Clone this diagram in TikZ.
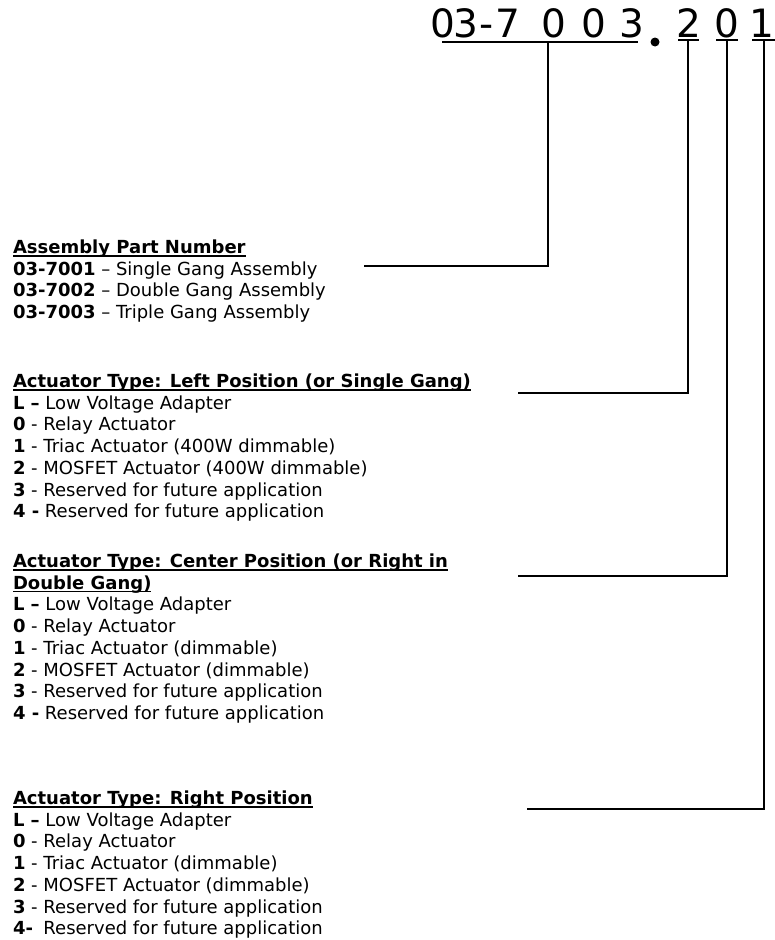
\documentclass[tikz,border=0pt]{standalone}
\usepackage{fontspec}
\setmainfont{DejaVu Sans}
\begin{document}
\begin{tikzpicture}[x=1pt,y=-1pt,
  txt/.style={anchor=base west,inner sep=0pt,outer sep=0pt,font=\fontsize{18}{21.7}\selectfont},
  head/.style={txt,font=\fontsize{18}{21.7}\selectfont\bfseries},
  ttl/.style={anchor=base,inner sep=0pt,outer sep=0pt,font=\fontsize{39}{40}\selectfont},
  conn/.style={line width=1.5pt,line join=miter},
  uline/.style={line width=1.4pt}]
\useasboundingbox (0,0) rectangle (775,940);

% ---- title ----
\node[ttl] (t1) at (442.5,37) {0};
\node[ttl] (t2) at (465.5,37) {3};
\node[ttl] (t3) at (486.5,37) {-};
\node[ttl] (t4) at (507.5,37) {7};
\node[ttl] (t5) at (554,37) {0};
\node[ttl] (t6) at (594,37) {0};
\node[ttl] (t7) at (632,37) {3};
\fill (655,42) circle (4.5pt);
\node[ttl] (t8) at (689,37) {2};
\node[ttl] (t9) at (727,37) {0};
\node[ttl] (t10) at (762,37) {1};

\coordinate (m1) at (442,42); \coordinate (m2) at (638,42);
\coordinate (p1) at (678,40); \coordinate (p2) at (699,40);
\coordinate (q1) at (716,40); \coordinate (q2) at (738,40);
\coordinate (r1) at (752,40); \coordinate (r2) at (775,40);
\draw[conn] (m1) -- (m2);
\draw[conn] (p1) -- (p2);
\draw[conn] (q1) -- (q2);
\draw[conn] (r1) -- (r2);

% ---- connectors ----
\coordinate (ua) at (548,42);  \coordinate (ea) at (364,266);
\coordinate (ub) at (688,40);  \coordinate (eb) at (518,393);
\coordinate (uc) at (727,40);  \coordinate (ec) at (518,576);
\coordinate (ud) at (764,40);  \coordinate (ed) at (527,809);
\draw[conn] (ua) |- (ea);
\draw[conn] (ub) |- (eb);
\draw[conn] (uc) |- (ec);
\draw[conn] (ud) |- (ed);

% ---- Assembly ----
\node[head] (ha) at (13,253.5) {Assembly Part Number};
\draw[uline] ([yshift=-2.5pt]ha.base west) -- ([yshift=-2.5pt]ha.base east);
\node[txt] (a1) at (13,275.2) {\textbf{03-7001} – Single Gang Assembly};
\node[txt] (a2) at (13,296.9) {\textbf{03-7002} – Double Gang Assembly};
\node[txt] (a3) at (13,318.6) {\textbf{03-7003} – Triple Gang Assembly};

% ---- Left ----
\node[head] (hb) at (13,387.5) {Actuator Type: Left Position (or Single Gang)};
\draw[uline] ([yshift=-2.5pt]hb.base west) -- ([yshift=-2.5pt]hb.base east);
\node[txt] (b1) at (13,409.2) {\textbf{L –} Low Voltage Adapter};
\node[txt] (b2) at (13,430.9) {\textbf{0} - Relay Actuator};
\node[txt] (b3) at (13,452.6) {\textbf{1} - Triac Actuator (400W dimmable)};
\node[txt] (b4) at (13,474.3) {\textbf{2} - MOSFET Actuator (400W dimmable)};
\node[txt] (b5) at (13,496.0) {\textbf{3} - Reserved for future application};
\node[txt] (b6) at (13,517.7) {\textbf{4 -} Reserved for future application};

% ---- Center ----
\node[head] (hc) at (13,567.5) {Actuator Type: Center Position (or Right in};
\draw[uline] ([yshift=-2.5pt]hc.base west) -- ([yshift=-2.5pt]hc.base east);
\node[head] (hc2) at (13,589.2) {Double Gang)};
\draw[uline] ([yshift=-2.5pt]hc2.base west) -- ([yshift=-2.5pt]hc2.base east);
\node[txt] (c1) at (13,610.9) {\textbf{L –} Low Voltage Adapter};
\node[txt] (c2) at (13,632.6) {\textbf{0} - Relay Actuator};
\node[txt] (c3) at (13,654.3) {\textbf{1} - Triac Actuator (dimmable)};
\node[txt] (c4) at (13,676.0) {\textbf{2} - MOSFET Actuator (dimmable)};
\node[txt] (c5) at (13,697.7) {\textbf{3} - Reserved for future application};
\node[txt] (c6) at (13,719.4) {\textbf{4 -} Reserved for future application};

% ---- Right ----
\node[head] (hd) at (13,804.5) {Actuator Type: Right Position};
\draw[uline] ([yshift=-2.5pt]hd.base west) -- ([yshift=-2.5pt]hd.base east);
\node[txt] (d1) at (13,826.2) {\textbf{L –} Low Voltage Adapter};
\node[txt] (d2) at (13,847.9) {\textbf{0} - Relay Actuator};
\node[txt] (d3) at (13,869.6) {\textbf{1} - Triac Actuator (dimmable)};
\node[txt] (d4) at (13,891.3) {\textbf{2} - MOSFET Actuator (dimmable)};
\node[txt] (d5) at (13,913.0) {\textbf{3} - Reserved for future application};
\node[txt] (d6) at (13,934.7) {\textbf{4-}\hspace{0.582em}Reserved for future application};
\end{tikzpicture}
\end{document}
